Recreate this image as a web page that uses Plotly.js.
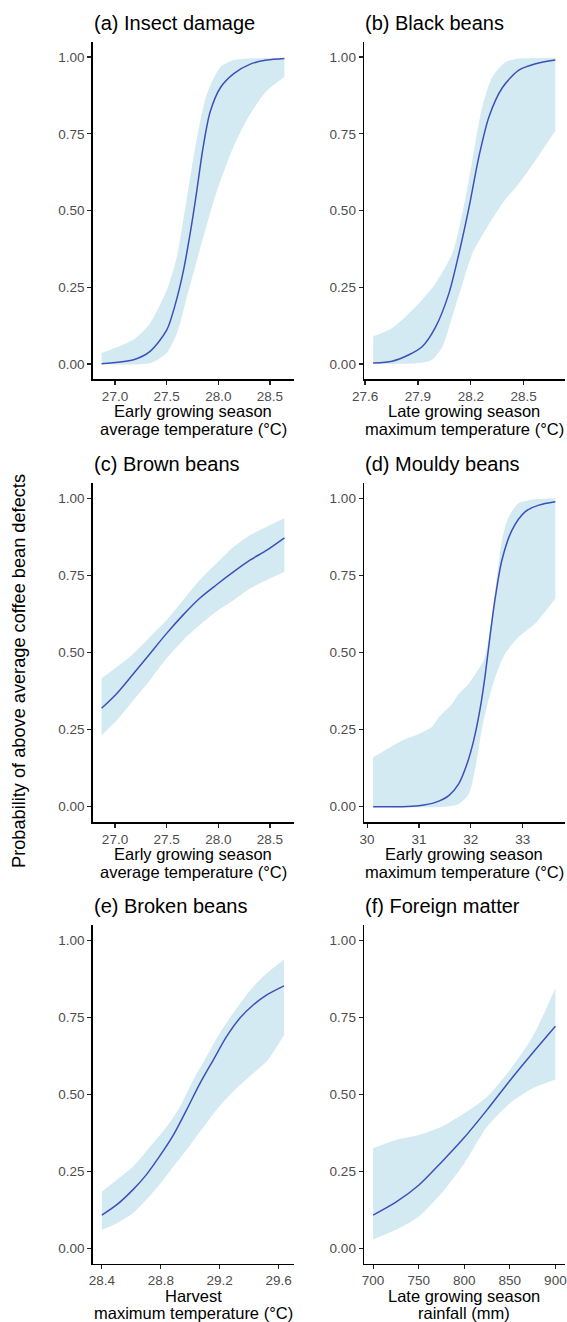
<!DOCTYPE html>
<html>
<head>
<meta charset="utf-8">
<script src="https://cdn.plot.ly/plotly-3.0.1.min.js"></script>
<style>html,body{margin:0;padding:0;background:#fff;}#chart{width:567px;height:1322px;}</style>
</head>
<body>
<div id="chart"></div>
<script>
// ---------- DATA ----------
const panelTitles = ["(a) Insect damage", "(b) Black beans", "(c) Brown beans", "(d) Mouldy beans", "(e) Broken beans", "(f) Foreign matter"];
const xTitles = [
  ["Early growing season", "average temperature (°C)"],
  ["Late growing season", "maximum temperature (°C)"],
  ["Early growing season", "average temperature (°C)"],
  ["Early growing season", "maximum temperature (°C)"],
  ["Harvest", "maximum temperature (°C)"],
  ["Late growing season", "rainfall (mm)"]
];
const yTitle = "Probability of above average coffee bean defects";
const yTickVals = [0, 0.25, 0.5, 0.75, 1];

// (a) Insect damage
const aX  = [26.87, 27.18, 27.34, 27.5, 27.58, 27.66, 27.73, 27.79, 27.85, 27.92, 28.02, 28.15, 28.31, 28.47, 28.64];
const aY  = [0.001, 0.014, 0.041, 0.11, 0.19, 0.30, 0.43, 0.56, 0.70, 0.82, 0.90, 0.946, 0.977, 0.99, 0.995];
const aUx = [26.87, 27.18, 27.34, 27.5, 27.6, 27.69, 27.79, 27.89, 28.02, 28.15, 28.64];
const aU  = [0.036, 0.08, 0.133, 0.24, 0.35, 0.53, 0.73, 0.88, 0.967, 0.99, 0.997];
const aLx = [26.87, 27.34, 27.5, 27.6, 27.69, 27.82, 27.98, 28.15, 28.31, 28.47, 28.64];
const aL  = [0.0, 0.003, 0.036, 0.10, 0.21, 0.37, 0.556, 0.71, 0.815, 0.89, 0.935];

// (b) Black beans
const bX  = [27.646, 27.754, 27.849, 27.925, 28.0, 28.076, 28.133, 28.19, 28.246, 28.303, 28.379, 28.473, 28.568, 28.68];
const bY  = [0.003, 0.009, 0.03, 0.057, 0.12, 0.23, 0.36, 0.51, 0.675, 0.805, 0.90, 0.957, 0.978, 0.99];
const bUx = [27.646, 27.754, 27.906, 28.0, 28.095, 28.152, 28.209, 28.265, 28.322, 28.398, 28.473, 28.68];
const bU  = [0.09, 0.117, 0.198, 0.263, 0.36, 0.49, 0.664, 0.837, 0.935, 0.984, 0.995, 0.997];
const bLx = [27.646, 27.906, 27.98, 28.04, 28.095, 28.152, 28.209, 28.284, 28.379, 28.473, 28.568, 28.68];
const bL  = [0.0, 0.003, 0.014, 0.057, 0.155, 0.26, 0.36, 0.437, 0.523, 0.588, 0.664, 0.76];

// (c) Brown beans
const cX  = [26.87, 27.02, 27.18, 27.34, 27.5, 27.66, 27.82, 27.98, 28.15, 28.31, 28.47, 28.64];
const cY  = [0.319, 0.368, 0.432, 0.497, 0.562, 0.622, 0.676, 0.719, 0.762, 0.80, 0.832, 0.872];
const cU  = [0.416, 0.454, 0.497, 0.551, 0.605, 0.67, 0.735, 0.789, 0.843, 0.881, 0.908, 0.935];
const cL  = [0.232, 0.281, 0.346, 0.411, 0.481, 0.54, 0.589, 0.632, 0.67, 0.708, 0.735, 0.762];

// (d) Mouldy beans
const dX  = [30.116, 30.674, 30.995, 31.317, 31.574, 31.766, 31.927, 32.055, 32.184, 32.28, 32.376, 32.473, 32.6, 32.794, 33.05, 33.31, 33.63];
const dY  = [0.0, 0.0, 0.003, 0.014, 0.036, 0.074, 0.139, 0.215, 0.323, 0.431, 0.561, 0.68, 0.80, 0.897, 0.957, 0.978, 0.989];
const dUx = [30.116, 30.674, 30.995, 31.25, 31.38, 31.64, 31.766, 31.96, 32.09, 32.25, 32.34, 32.47, 32.6, 32.73, 32.92, 33.24, 33.63];
const dU  = [0.16, 0.215, 0.236, 0.258, 0.29, 0.334, 0.366, 0.399, 0.431, 0.475, 0.54, 0.70, 0.865, 0.94, 0.984, 0.997, 1.0];
const dLx = [30.116, 31.51, 31.766, 31.96, 32.09, 32.22, 32.34, 32.47, 32.66, 32.92, 33.24, 33.63];
const dL  = [0.0, 0.0, 0.009, 0.041, 0.128, 0.258, 0.345, 0.42, 0.496, 0.55, 0.594, 0.675];

// (e) Broken beans
const eX  = [28.4, 28.5, 28.61, 28.70, 28.79, 28.885, 28.975, 29.066, 29.156, 29.246, 29.336, 29.427, 29.517, 29.636];
const eY  = [0.108, 0.141, 0.19, 0.238, 0.298, 0.368, 0.45, 0.536, 0.612, 0.688, 0.748, 0.791, 0.823, 0.853];
const eUx = [28.4, 28.5, 28.61, 28.727, 28.84, 28.93, 29.02, 29.11, 29.2, 29.29, 29.38, 29.47, 29.56, 29.636];
const eU  = [0.184, 0.222, 0.265, 0.33, 0.395, 0.46, 0.547, 0.623, 0.699, 0.764, 0.823, 0.872, 0.91, 0.939];
const eLx = [28.4, 28.5, 28.61, 28.70, 28.79, 28.885, 28.975, 29.066, 29.178, 29.29, 29.40, 29.517, 29.636];
const eL  = [0.06, 0.081, 0.114, 0.157, 0.206, 0.265, 0.32, 0.379, 0.45, 0.509, 0.558, 0.607, 0.693];

// (f) Foreign matter
const fX  = [700, 725, 750, 775, 800, 825, 850, 875, 900];
const fY  = [0.108, 0.15, 0.205, 0.28, 0.36, 0.45, 0.545, 0.635, 0.722];
const fU  = [0.325, 0.352, 0.368, 0.395, 0.439, 0.493, 0.58, 0.688, 0.845];
const fL  = [0.029, 0.06, 0.103, 0.179, 0.276, 0.395, 0.471, 0.52, 0.549];

const xRanges = [[26.784, 28.73], [27.594, 28.732], [26.784, 28.73], [29.94, 33.806], [28.338, 29.702], [690, 910]];
const xTicks  = [[27.0, 27.5, 28.0, 28.5], [27.6, 27.9, 28.2, 28.5], [27.0, 27.5, 28.0, 28.5], [30, 31, 32, 33], [28.4, 28.8, 29.2, 29.6], [700, 750, 800, 850, 900]];
const xTickText = [["27.0","27.5","28.0","28.5"], ["27.6","27.9","28.2","28.5"], ["27.0","27.5","28.0","28.5"], ["30","31","32","33"], ["28.4","28.8","29.2","29.6"], ["700","750","800","850","900"]];

const panels = [
  {x: aX, y: aY, ux: aUx, u: aU, lx: aLx, l: aL},
  {x: bX, y: bY, ux: bUx, u: bU, lx: bLx, l: bL},
  {x: cX, y: cY, ux: cX,  u: cU, lx: cX,  l: cL},
  {x: dX, y: dY, ux: dUx, u: dU, lx: dLx, l: dL},
  {x: eX, y: eY, ux: eUx, u: eU, lx: eLx, l: eL},
  {x: fX, y: fY, ux: fX,  u: fU, lx: fX,  l: fL}
];

// ---------- LAYOUT GEOMETRY (pixels) ----------
const W = 567, H = 1322;
const colPx = [[92.7, 293.7], [364, 564.5]];
const rowPx = [[41.7, 379.3], [482.9, 822.1], [925.3, 1263.7]];
const FONT = "Liberation Sans, Arial, sans-serif";
const BAND = "#D4EAF3";
const LINE = "#3C50B8";

const traces = [];
const layout = {
  width: W, height: H,
  margin: {l: 0, r: 0, t: 0, b: 0},
  paper_bgcolor: "#fff", plot_bgcolor: "#fff",
  showlegend: false,
  font: {family: FONT, color: "#000"},
  annotations: []
};

panels.forEach((p, i) => {
  const n = i + 1;
  const xa = n === 1 ? "x" : "x" + n;
  const ya = n === 1 ? "y" : "y" + n;
  const col = i % 2, row = Math.floor(i / 2);
  const [x0, x1] = colPx[col];
  const [yt, yb] = rowPx[row];

  // ribbon: lower edge, then upper edge filled to it
  traces.push({
    type: "scatter", mode: "lines",
    x: p.lx, y: p.l,
    line: {width: 0, color: BAND, shape: "spline", smoothing: 0.7},
    xaxis: xa, yaxis: ya, hoverinfo: "skip"
  });
  traces.push({
    type: "scatter", mode: "lines",
    x: p.ux, y: p.u,
    fill: "tonexty", fillcolor: BAND,
    line: {width: 0, color: BAND, shape: "spline", smoothing: 0.7},
    xaxis: xa, yaxis: ya, hoverinfo: "skip"
  });
  traces.push({
    type: "scatter", mode: "lines",
    x: p.x, y: p.y,
    line: {width: 1.5, color: LINE, shape: "spline", smoothing: 0.8},
    xaxis: xa, yaxis: ya
  });

  const axCommon = {
    showgrid: false, zeroline: false, showline: true,
    linecolor: "#000", linewidth: 1.4,
    ticks: "outside", ticklen: 4, tickwidth: 1.2, tickcolor: "#222",
    tickfont: {family: FONT, size: 13.5, color: "#4D4D4D"},
    fixedrange: true
  };
  layout["xaxis" + (n === 1 ? "" : n)] = Object.assign({}, axCommon, {
    domain: [x0 / W, x1 / W], anchor: ya,
    range: xRanges[i], tickmode: "array", tickvals: xTicks[i], ticktext: xTickText[i]
  });
  layout["yaxis" + (n === 1 ? "" : n)] = Object.assign({}, axCommon, {
    domain: [1 - yb / H, 1 - yt / H], anchor: xa,
    range: [-0.05, 1.05], tickmode: "array", tickvals: yTickVals, tickformat: ".2f"
  });

  // panel title
  layout.annotations.push({
    xref: "paper", yref: "paper", x: (x0 - 1) / W, y: 1 - (yt - 19) / H,
    xanchor: "left", yanchor: "middle", showarrow: false,
    text: panelTitles[i], font: {family: FONT, size: 20, color: "#000"}
  });
  // x-axis title (two lines)
  xTitles[i].forEach((t, k) => {
    layout.annotations.push({
      xref: "paper", yref: "paper", x: ((x0 + x1) / 2) / W, y: 1 - (yb + 32 + k * 17.7) / H,
      xanchor: "center", yanchor: "middle", showarrow: false,
      text: t, font: {family: FONT, size: 16.5, color: "#000"}
    });
  });
});

// shared y title
layout.annotations.push({
  xref: "paper", yref: "paper", x: 19 / W, y: 1 - 671 / H,
  xanchor: "center", yanchor: "middle", showarrow: false, textangle: -90,
  text: yTitle, font: {family: FONT, size: 18.2, color: "#000"}
});

Plotly.newPlot("chart", traces, layout, {displayModeBar: false, staticPlot: true});
</script>
</body>
</html>
